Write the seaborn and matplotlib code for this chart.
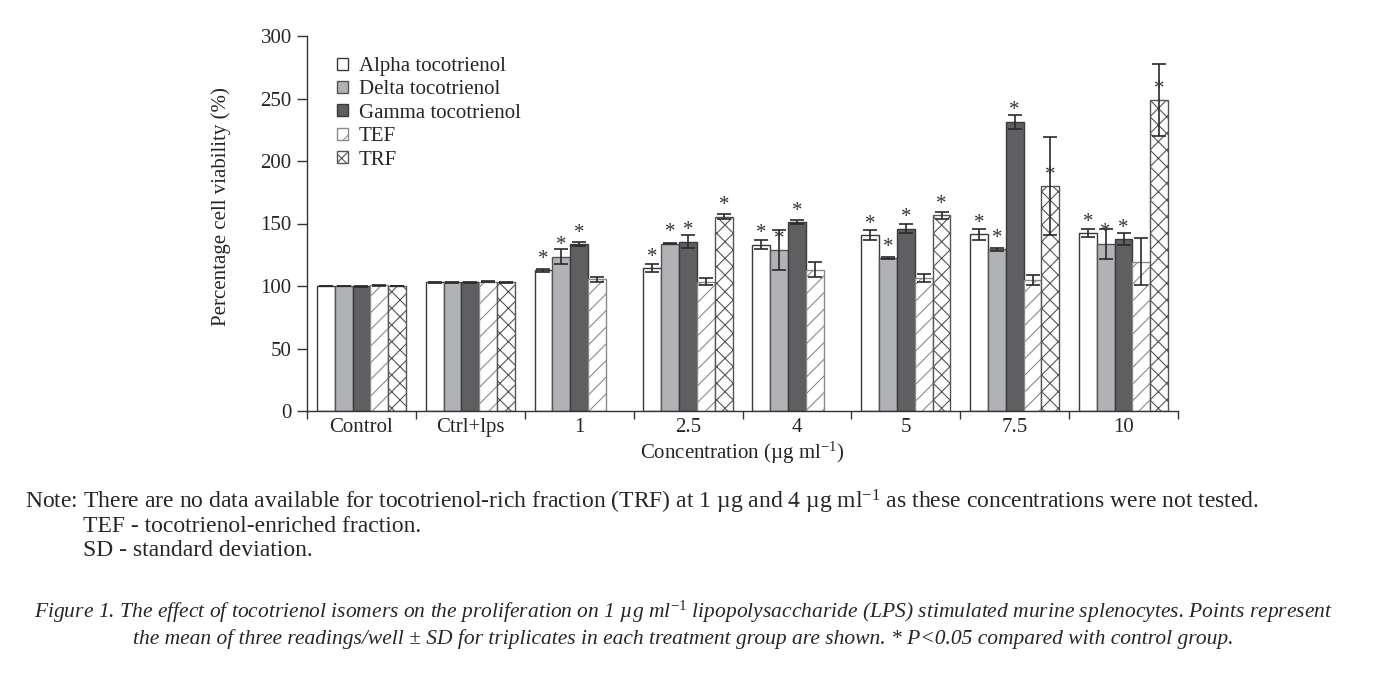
import numpy as np
import pandas as pd
import matplotlib
matplotlib.use("Agg")
import matplotlib.pyplot as plt
import seaborn as sns

# ---------------------------------------------------------------------
# Data (means and SD, % cell viability)
# ---------------------------------------------------------------------
concentrations = ["Control", "Ctrl+lps", "1", "2.5", "4", "5", "7.5", "10"]
treatments = ["Alpha tocotrienol", "Delta tocotrienol", "Gamma tocotrienol", "TEF", "TRF"]

alpha_mean = [100, 103, 112.5, 114.5, 133, 140.5, 141.5, 142.5]
alpha_sd = [0.3, 0.3, 1.2, 3.0, 3.5, 4.0, 4.5, 3.5]
delta_mean = [100, 103, 123.5, 134, 128.5, 122.5, 129.5, 134]
delta_sd = [0.3, 0.3, 6.0, 0.5, 16, 0.8, 1.3, 12]
gamma_mean = [99.8, 103, 133.5, 135.5, 151, 146, 231.5, 137.5]
gamma_sd = [0.3, 0.3, 1.5, 5.0, 1.5, 3.5, 5.5, 5.0]
tef_mean = [100.5, 103.5, 105.5, 103.5, 113, 106.5, 104.5, 119.5]
tef_sd = [0.5, 0.3, 2.0, 3.0, 6.0, 3.5, 4.0, 19]
trf_mean = [100, 103, np.nan, 155.5, np.nan, 156.5, 180, 249]
trf_sd = [0.3, 0.3, np.nan, 2.0, np.nan, 3.0, 39, 29]

# significance marks (* P<0.05 vs control)
alpha_sig = [0, 0, 1, 1, 1, 1, 1, 1]
delta_sig = [0, 0, 1, 1, 1, 1, 1, 1]
gamma_sig = [0, 0, 1, 1, 1, 1, 1, 1]
tef_sig = [0, 0, 0, 0, 0, 0, 0, 0]
trf_sig = [0, 0, 0, 1, 0, 1, 1, 1]

means = [alpha_mean, delta_mean, gamma_mean, tef_mean, trf_mean]
sds = [alpha_sd, delta_sd, gamma_sd, tef_sd, trf_sd]
sigs = [alpha_sig, delta_sig, gamma_sig, tef_sig, trf_sig]

fills = ["#ffffff", "#b1b2b5", "#5f5f61", "#ffffff", "#ffffff"]
edges = ["#3a3a3a", "#555555", "#3a3a3a", "#8a8a8a", "#555555"]
hatches = [None, None, None, "//", "xx"]

rows = []
for t, m in zip(treatments, means):
    for c, v in zip(concentrations, m):
        if not np.isnan(v):
            rows.append({"concentration": c, "treatment": t, "viability": v})
df = pd.DataFrame(rows)

# ---------------------------------------------------------------------
# Style
# ---------------------------------------------------------------------
sns.set_style("ticks")
plt.rcParams["font.family"] = ["Liberation Serif", "DejaVu Serif"]
plt.rcParams["mathtext.fontset"] = "custom"
plt.rcParams["mathtext.rm"] = "Liberation Serif"
plt.rcParams["mathtext.it"] = "Liberation Serif:italic"
plt.rcParams["hatch.linewidth"] = 0.8

fig = plt.figure(figsize=(13.95, 6.77), dpi=100)
ax = fig.add_axes([307 / 1395, 1 - 411 / 677, 871 / 1395, 375 / 677])

sns.barplot(
    data=df,
    x="concentration",
    y="viability",
    hue="treatment",
    order=concentrations,
    hue_order=treatments,
    palette=fills,
    saturation=1,
    width=0.82,
    errorbar=None,
    legend=False,
    ax=ax,
)

bar_containers = list(ax.containers)
for i, cont in enumerate(bar_containers):
    for bar in cont:
        bar.set_edgecolor(edges[i])
        bar.set_linewidth(1.0)
        if hatches[i]:
            bar.set_hatch(hatches[i])
        cx = bar.get_x() + bar.get_width() / 2
        g = int(round(cx))
        h = bar.get_height()
        ax.errorbar(cx, h, yerr=sds[i][g], fmt="none", ecolor="#2a2a2a",
                    elinewidth=1.2, capsize=5, capthick=1.2, zorder=4)
        if sigs[i][g]:
            ax.annotate("*", (cx, h), xytext=(0, 4.5), textcoords="offset points",
                        ha="center", va="baseline", fontsize=15, color="#333333",
                        zorder=5)

ax.legend(bar_containers, treatments, loc="upper left", bbox_to_anchor=(0.025, 0.966),
          frameon=False, fontsize=15, handlelength=0.5, handleheight=0.5,
          handletextpad=0.55, labelspacing=0.21, borderaxespad=0)

ax.set_ylim(0, 300)
ax.set_yticks(np.arange(0, 301, 50))
ax.set_xlim(-0.5, 7.5)
ax.set_xticks(np.arange(-0.5, 8, 1), minor=True)
ax.tick_params(axis="x", which="major", length=0, labelsize=15, pad=5)
ax.tick_params(axis="x", which="minor", length=6, width=1, color="#333333")
ax.tick_params(axis="y", length=7, width=1, color="#333333", labelsize=15, pad=4)
for s in ["left", "bottom"]:
    ax.spines[s].set_color("#333333")
    ax.spines[s].set_linewidth(1.0)
sns.despine(ax=ax)

ax.set_xlabel("Concentration (µg ml$^{-1}$)", fontsize=15, labelpad=2)
ax.set_ylabel("Percentage cell viability (%)", fontsize=15)
ax.yaxis.set_label_coords(-0.0873, 0.545)

# notes and caption
fig.text(25 / 1395, 1 - 502 / 677,
         "Note: There are no data available for tocotrienol-rich fraction (TRF) at 1 µg "
         "and 4 µg ml$^{-1}$ as these concentrations were not tested.",
         fontsize=17, va="center", ha="left")
fig.text(83 / 1395, 1 - 527 / 677, "TEF - tocotrienol-enriched fraction.",
         fontsize=17, va="center", ha="left")
fig.text(83 / 1395, 1 - 551 / 677, "SD - standard deviation.",
         fontsize=17, va="center", ha="left")
fig.text(683 / 1395, 1 - 612 / 677,
         "Figure 1. The effect of tocotrienol isomers on the proliferation on 1 µg ml$^{-1}$ "
         "lipopolysaccharide (LPS) stimulated murine splenocytes. Points represent",
         fontsize=15.5, style="italic", va="center", ha="center")
fig.text(683 / 1395, 1 - 639 / 677,
         "the mean of three readings/well ± SD for triplicates in each treatment group "
         "are shown. * P<0.05 compared with control group.",
         fontsize=15.5, style="italic", va="center", ha="center")

fig.savefig("out.png", dpi=100)
